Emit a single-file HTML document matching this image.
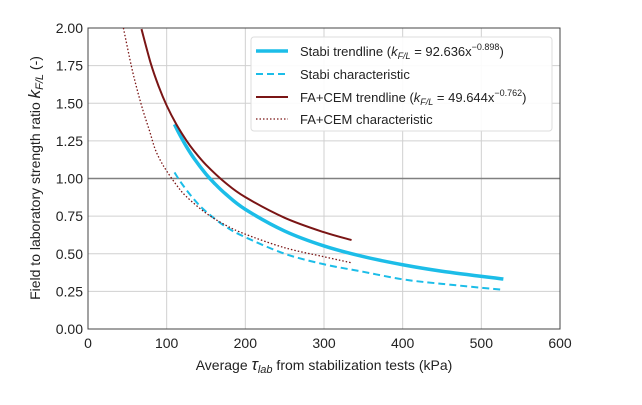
<!DOCTYPE html>
<html><head><meta charset="utf-8"><style>
body{margin:0;background:#fff;width:642px;height:400px;overflow:hidden}
svg{font-family:"Liberation Sans",sans-serif}
</style></head><body>
<svg id="chart" width="642" height="400"></svg>
<script>
const xTicks=[0,100,200,300,400,500,600];
const yTicks=[0,0.25,0.5,0.75,1.0,1.25,1.5,1.75,2.0];
const stabiTrendX=[110,115,125,135,150,160,175,200,250,300,350,400,450,528];
const stabiTrendY=[1.36,1.307,1.213,1.132,1.029,0.972,0.897,0.795,0.651,0.552,0.481,0.427,0.384,0.332];
const stabiCharX=[110,120,135,150,175,200,250,300,350,400,450,528];
const stabiCharY=[1.04,0.96,0.86,0.78,0.68,0.61,0.50,0.43,0.38,0.33,0.30,0.26];
const faTrendX=[68,80,90,100,112,125,135,150,175,200,250,300,335];
const faTrendY=[1.993,1.761,1.61,1.485,1.363,1.253,1.182,1.091,0.97,0.876,0.739,0.643,0.591];
const faCharX=[45,55,62,70,78,85,92,100,112,125,150,175,200,250,300,335];
const faCharY=[2.0,1.75,1.6,1.45,1.32,1.2,1.12,1.05,0.96,0.88,0.77,0.69,0.63,0.54,0.48,0.44];

const NS="http://www.w3.org/2000/svg";
const svg=document.getElementById('chart');
const X0=88,X1=560,Y0=329,Y1=28;
const sx=v=>X0+(v-0)/(600-0)*(X1-X0);
const sy=v=>Y0-(v-0)/(2-0)*(Y0-Y1);
function mk(tag,attrs,parent){const e=document.createElementNS(NS,tag);for(const k in attrs)e.setAttribute(k,attrs[k]);(parent||svg).appendChild(e);return e;}
xTicks.forEach(t=>{
  const l=mk('line',{x1:sx(t),x2:sx(t),y1:Y1,y2:Y0,stroke:'#d0d0d0','stroke-width':1});
  
  
  const tx=mk('text',{x:sx(t),y:Y0+19,'text-anchor':'middle','font-size':14,fill:'#222'});
  tx.textContent=t;
  
  
});
yTicks.forEach(t=>{
  const l=mk('line',{x1:X0,x2:X1,y1:sy(t),y2:sy(t),stroke:t===1?'#808080':'#d0d0d0','stroke-width':t===1?1.6:1});
  
  
  const tx=mk('text',{x:X0-5,y:sy(t)+5,'text-anchor':'end','font-size':14,fill:'#222'});
  tx.textContent=t.toFixed(2);
  
  
});
const fr=mk('rect',{x:X0,y:Y1,width:X1-X0,height:Y0-Y1,fill:'none',stroke:'#444','stroke-width':1});


function crPath(xs,ys){
  const p=xs.map((x,i)=>[sx(x),sy(ys[i])]);
  let d='M'+p[0][0]+','+p[0][1];
  for(let i=0;i<p.length-1;i++){
    const p0=p[i-1]||p[i],p1=p[i],p2=p[i+1],p3=p[i+2]||p2;
    const c1=[p1[0]+(p2[0]-p0[0])/6,p1[1]+(p2[1]-p0[1])/6];
    const c2=[p2[0]-(p3[0]-p1[0])/6,p2[1]-(p3[1]-p1[1])/6];
    d+=` C${c1[0]},${c1[1]} ${c2[0]},${c2[1]} ${p2[0]},${p2[1]}`;
  }
  return d;
}
const cy='#1cbde8',dr='#7a1515';
const clip=mk('clipPath',{id:'cp'});mk('rect',{x:X0,y:Y1,width:X1-X0,height:Y0-Y1},clip);
const s1=mk('path',{d:crPath(stabiCharX,stabiCharY),fill:'none',stroke:cy,'stroke-width':2,'stroke-dasharray':'7,4','clip-path':'url(#cp)'});


const s2=mk('path',{d:crPath(faCharX,faCharY),fill:'none',stroke:dr,'stroke-width':1.3,'stroke-dasharray':'1.5,2','clip-path':'url(#cp)'});


const s3=mk('path',{d:crPath(stabiTrendX,stabiTrendY),fill:'none',stroke:cy,'stroke-width':3.5,'clip-path':'url(#cp)'});


const s4=mk('path',{d:crPath(faTrendX,faTrendY),fill:'none',stroke:dr,'stroke-width':2,'clip-path':'url(#cp)'});


</script>
<svg style="position:absolute;left:0;top:0" width="642" height="400">
<g>
<rect x="251" y="37" width="301" height="94" rx="3" fill="#fff" fill-opacity="0.9" stroke="#ddd"/>
<line x1="256" y1="51" x2="288" y2="51" stroke="#1cbde8" stroke-width="3.5"/>
<text x="300" y="56" font-size="13" fill="#222">Stabi trendline (<tspan font-style="italic">k</tspan><tspan font-style="italic" font-size="9" dy="3">F/L</tspan><tspan dy="-3"> = 92.636x</tspan><tspan font-size="9" dy="-6">−0.898</tspan><tspan dy="6">)</tspan></text>
<line x1="256" y1="74" x2="288" y2="74" stroke="#1cbde8" stroke-width="2" stroke-dasharray="7,4"/>
<text x="300" y="79" font-size="13" fill="#222">Stabi characteristic</text>
<line x1="256" y1="97" x2="288" y2="97" stroke="#7a1515" stroke-width="2"/>
<text x="300" y="102" font-size="13" fill="#222">FA+CEM trendline (<tspan font-style="italic">k</tspan><tspan font-style="italic" font-size="9" dy="3">F/L</tspan><tspan dy="-3"> = 49.644x</tspan><tspan font-size="9" dy="-6">−0.762</tspan><tspan dy="6">)</tspan></text>
<line x1="256" y1="119" x2="288" y2="119" stroke="#7a1515" stroke-width="1.3" stroke-dasharray="1.5,2"/>
<text x="300" y="124" font-size="13" fill="#222">FA+CEM characteristic</text>
</g>
<text x="324" y="370" text-anchor="middle" font-size="14" fill="#222">Average <tspan font-style="italic" font-size="17">τ</tspan><tspan font-style="italic" font-size="11" dy="3">lab</tspan><tspan dy="-3"> from stabilization tests (kPa)</tspan></text>
<text transform="translate(40,178) rotate(-90)" text-anchor="middle" font-size="14" fill="#222">Field to laboratory strength ratio <tspan font-style="italic" font-size="17">k</tspan><tspan font-style="italic" font-size="11" dy="3">F/L</tspan><tspan dy="-3"> (-)</tspan></text>
</svg>
</body></html>
